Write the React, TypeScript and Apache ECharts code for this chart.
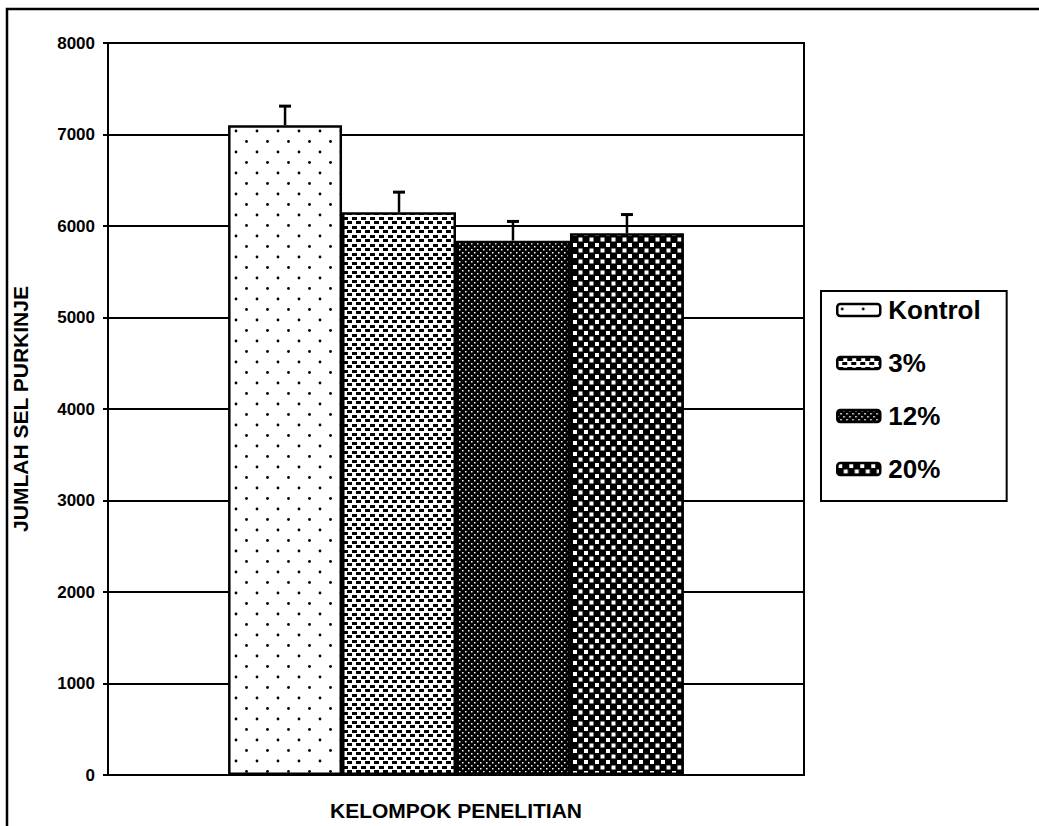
import React, { useEffect, useRef } from "react";
import * as echarts from "echarts";

const seriesNames = ["Kontrol", "3%", "12%", "20%"];
const meanValues = [7100, 6150, 5840, 5920];
const errorTops = [7310, 6370, 6050, 6125];
const yTicks = { min: 0, max: 8000, interval: 1000 };
const categories = [""];

const FONT = '"Liberation Sans", Arial, sans-serif';
const CAT_GAP = 0.345;

function makePattern(
  w: number,
  h: number,
  bg: string,
  fg: string,
  draw: (ctx: CanvasRenderingContext2D) => void
) {
  const c = document.createElement("canvas");
  c.width = w;
  c.height = h;
  const ctx = c.getContext("2d") as CanvasRenderingContext2D;
  ctx.fillStyle = bg;
  ctx.fillRect(0, 0, w, h);
  ctx.fillStyle = fg;
  draw(ctx);
  return { image: c.toDataURL(), repeat: "repeat", imageWidth: w, imageHeight: h };
}

function buildPatterns() {
  const dots = makePattern(21, 21, "#fff", "#000", (ctx) => {
    [[5, 5], [15.5, 15.5]].forEach(([x, y]) => {
      ctx.beginPath();
      ctx.arc(x, y, 1.4, 0, Math.PI * 2);
      ctx.fill();
    });
  });
  const dashes = makePattern(9, 9, "#fff", "#000", (ctx) => {
    ctx.fillRect(1, 1, 5, 3);
    ctx.fillRect(5, 5, 5, 3);
    ctx.fillRect(-4, 5, 5, 3);
  });
  const dense = makePattern(6, 6, "#000", "#fff", (ctx) => {
    ctx.fillRect(0, 0, 1.5, 1.5);
    ctx.fillRect(3, 3, 1.5, 1.5);
  });
  const squares = makePattern(11, 11, "#000", "#fff", (ctx) => {
    ctx.fillRect(1, 1, 4, 4);
    ctx.fillRect(6.5, 6.5, 4, 4);
  });
  return [dots, dashes, dense, squares];
}

export default function App() {
  const ref = useRef<HTMLDivElement>(null);
  useEffect(() => {
    if (!ref.current) return;
    const chart = echarts.init(ref.current, undefined, { renderer: "svg" });
    const patterns = buildPatterns();
    const n = seriesNames.length;

    const barSeries = seriesNames.map((name, i) => ({
      type: "bar",
      name,
      data: [meanValues[i]],
      barGap: "0%",
      barCategoryGap: CAT_GAP * 100 + "%",
      itemStyle: { color: patterns[i], borderColor: "#000", borderWidth: 2.5 },
      z: 3,
    }));

    const errData = meanValues.map((v, i) => [0, v, errorTops[i], i]);

    const option: any = {
      animation: false,
      backgroundColor: "#fff",
      textStyle: { fontFamily: FONT, color: "#000" },
      grid: { left: 108, right: 235, top: 43, bottom: 44, show: true, borderColor: "#000", borderWidth: 2, backgroundColor: "transparent" },
      graphic: [
        { type: "rect", shape: { x: 7, y: 9, width: 1100, height: 900 }, style: { fill: "none", stroke: "#000", lineWidth: 2.5 }, silent: true },
      ],
      legend: {
        data: seriesNames,
        orient: "vertical",
        left: 821,
        top: 291,
        padding: [6, 26, 19, 15],
        itemWidth: 43,
        itemHeight: 12,
        itemGap: 27,
        borderColor: "#000",
        borderWidth: 2,
        backgroundColor: "#fff",
        textStyle: { fontFamily: FONT, fontWeight: "bold", fontSize: 26, color: "#000", lineHeight: 26, padding: [0, 0, 0, 3] },
        itemStyle: { borderColor: "#000", borderWidth: 2.5 },
      },
      xAxis: {
        type: "category",
        data: categories,
        name: "KELOMPOK PENELITIAN",
        nameLocation: "middle",
        nameGap: 25,
        nameTextStyle: { fontFamily: FONT, fontWeight: "bold", fontSize: 21, color: "#000" },
        axisLine: { show: true, lineStyle: { color: "#000", width: 2 } },
        axisTick: { show: false },
        axisLabel: { show: false },
        splitLine: { show: false },
      },
      yAxis: {
        type: "value",
        min: yTicks.min,
        max: yTicks.max,
        interval: yTicks.interval,
        name: "JUMLAH SEL PURKINJE",
        nameLocation: "middle",
        nameGap: 77,
        nameTextStyle: { fontFamily: FONT, fontWeight: "bold", fontSize: 21, color: "#000" },
        axisLine: { show: true, lineStyle: { color: "#000", width: 2 } },
        axisTick: { show: true, length: 5, lineStyle: { color: "#000", width: 2 } },
        axisLabel: { fontFamily: FONT, fontWeight: "bold", fontSize: 17, color: "#000", margin: 13, formatter: (v: number) => String(v) },
        splitLine: { show: true, lineStyle: { color: "#000", width: 2 } },
      },
      series: [
        ...barSeries,
        {
          type: "custom",
          name: "err",
          data: errData,
          z: 5,
          renderItem: (params: any, api: any) => {
            const idx = api.value(3);
            const base = api.coord([0, api.value(1)]);
            const top = api.coord([0, api.value(2)]);
            const catW = api.size([1, 0])[0];
            const groupW = catW * (1 - CAT_GAP);
            const barW = groupW / n;
            const cx = base[0] - groupW / 2 + barW * (idx + 0.5);
            return {
              type: "group",
              children: [
                { type: "line", shape: { x1: cx, y1: base[1], x2: cx, y2: top[1] }, style: { stroke: "#000", lineWidth: 2.5 } },
                { type: "line", shape: { x1: cx - 6, y1: top[1], x2: cx + 6, y2: top[1] }, style: { stroke: "#000", lineWidth: 3 } },
              ],
            };
          },
        },
      ],
    };
    chart.setOption(option);
    return () => chart.dispose();
  }, []);
  return <div ref={ref} style={{ position: "fixed", left: 0, top: 0, width: 1039, height: 826, background: "#fff" }} />;
}
